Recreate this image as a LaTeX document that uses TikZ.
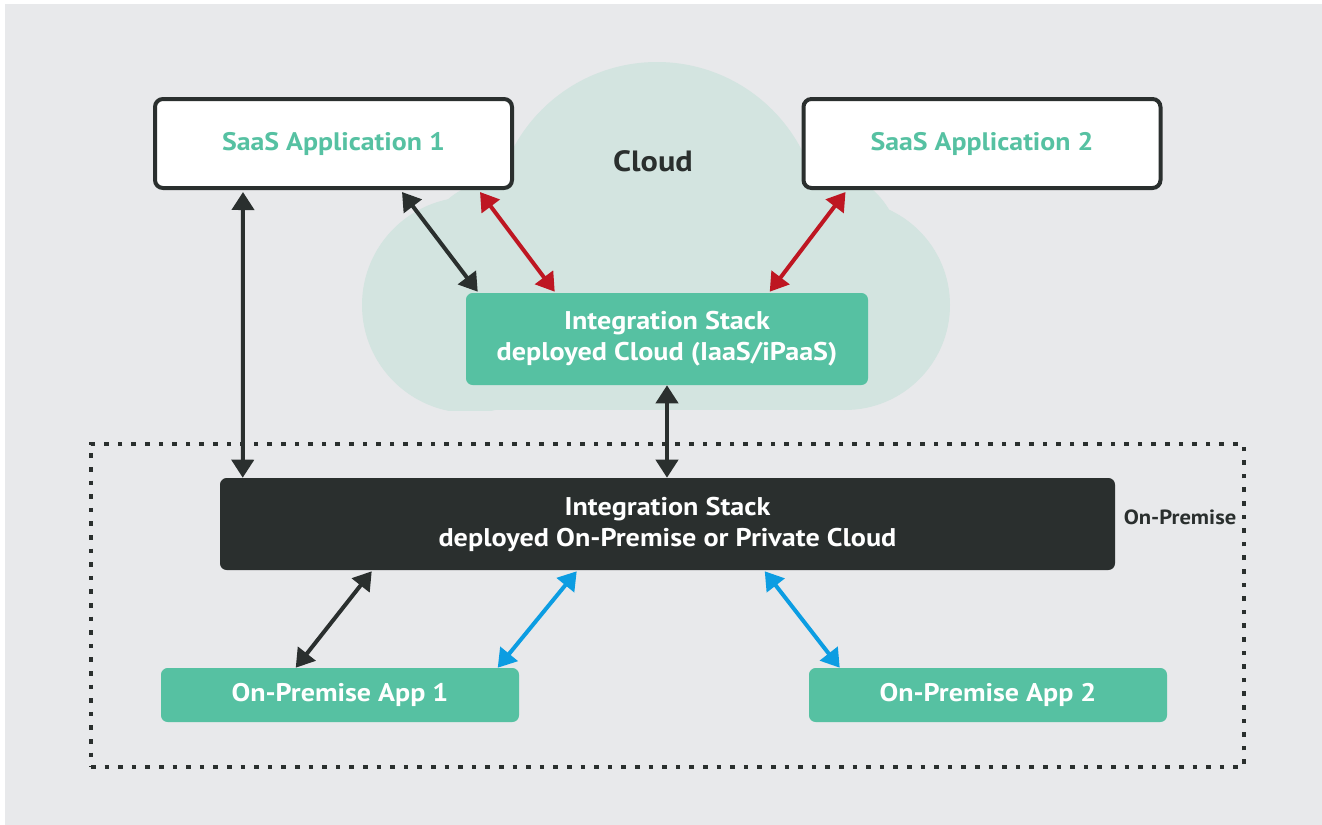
\documentclass[tikz,border=0pt]{standalone}
\usepackage{fontspec}
\setmainfont{PT Sans}[FakeStretch=1.1]
\usetikzlibrary{arrows.meta}
\definecolor{bggray}{RGB}{232,233,235}
\definecolor{cloudteal}{RGB}{211,228,224}
\definecolor{mint}{RGB}{86,193,162}
\definecolor{ink}{RGB}{42,47,46}
\definecolor{linkred}{RGB}{190,22,34}
\definecolor{linkblue}{RGB}{12,157,226}
\tikzset{
  saasbox/.style={draw=ink, line width=3pt, fill=white, rounded corners=6pt,
    minimum width=357*0.75pt, minimum height=89*0.75pt, inner sep=0pt,
    text=mint, font=\bfseries\fontsize{19}{23}\selectfont},
  stackbox/.style={rounded corners=5pt, inner sep=0pt, minimum height=92*0.75pt,
    text=white, align=center, font=\bfseries\fontsize{19.2}{23.25}\selectfont},
  appbox/.style={fill=mint, rounded corners=5pt, inner sep=0pt,
    minimum width=358*0.75pt, minimum height=54*0.75pt,
    text=white, font=\bfseries\fontsize{19.1}{23}\selectfont},
  premframe/.style={draw=ink, line width=3.6pt, dash pattern=on 3.5pt off 6.7pt,
    minimum width=1153*0.75pt, minimum height=323*0.75pt, inner sep=0pt},
  biarrow/.style={line width=3pt,
    {Triangle[length=13.5pt,width=16.5pt]}-{Triangle[length=13.5pt,width=16.5pt]}},
}
\begin{document}
\begin{tikzpicture}[x=0.75pt,y=-0.75pt]
\useasboundingbox (0,0) rectangle (1322,825);
\fill[white] (0,0) rectangle (1322,825);
\fill[bggray] (5,4) rectangle (1322,825);

% cloud silhouette built from overlapping lobes
\begin{scope}[cloudteal]
  \clip (300,0) rectangle (1000,410);
  \fill (657,225) circle[radius=163];
  \fill (470,305) circle[radius=108];
  \fill (845,305) circle[radius=105];
  \fill (500,260) circle[radius=80];
  \fill (820,250) circle[radius=80];
  \fill (470,250) rectangle (845,410);
\end{scope}

% on-premise boundary
\node[premframe] (premise) at (667.5,605.5) {};
\node[text=ink, font=\bfseries\fontsize{15.4}{18}\selectfont] (premlbl) at (1180,517) {On-Premise};

% boxes
\node[saasbox] (saas1) at (333.5,143.5) {SaaS Application 1};
\node[saasbox] (saas2) at (982,143.5) {SaaS Application 2};
\node[text=ink, font=\bfseries\fontsize{22}{26}\selectfont] (cloudlbl) at (653,161) {Cloud};

\node[stackbox, fill=mint, minimum width=402*0.75pt] (cstack) at (667,339)
  {Integration Stack\\deployed Cloud (IaaS/iPaaS)};
\node[stackbox, fill=ink, minimum width=895*0.75pt] (pstack) at (667.5,524)
  {Integration Stack\\deployed On-Premise or Private Cloud};

\node[appbox] (app1) at (340,695) {On-Premise App 1};
\node[appbox] (app2) at (988,695) {On-Premise App 2};

% connectors
\draw[biarrow, ink] ([shift={(90,2)}]saas1.south west) -- ([shift={(23,0)}]pstack.north west);
\draw[biarrow, ink] ([shift={(249,2)}]saas1.south west) -- ([shift={(12,-1)}]cstack.north west);
\draw[biarrow, linkred] ([shift={(327,2)}]saas1.south west) -- ([shift={(89,-1)}]cstack.north west);
\draw[biarrow, linkred] ([shift={(44,2)}]saas2.south west) -- ([shift={(304,-1)}]cstack.north west);
\draw[biarrow, ink] (cstack.south) -- (cstack.south |- pstack.north);
\draw[biarrow, ink] ([shift={(152,1)}]pstack.south west) -- ([shift={(135,0)}]app1.north west);
\draw[biarrow, linkblue] ([shift={(357,1)}]pstack.south west) -- ([shift={(337,0)}]app1.north west);
\draw[biarrow, linkblue] ([shift={(545,1)}]pstack.south west) -- ([shift={(31,0)}]app2.north west);
\end{tikzpicture}
\end{document}
